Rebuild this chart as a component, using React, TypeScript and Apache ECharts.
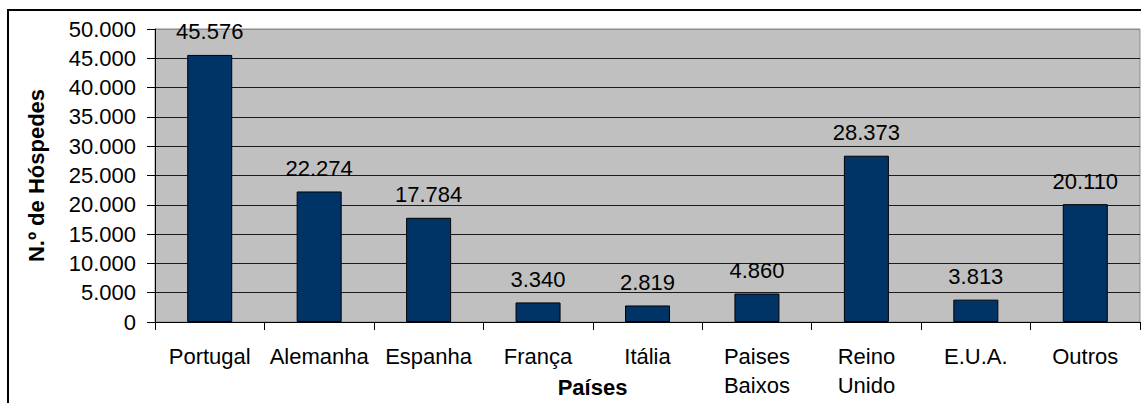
import React, { useEffect, useRef } from "react";
import * as echarts from "echarts";

const categories = ["Portugal", "Alemanha", "Espanha", "França", "Itália", "Paises\nBaixos", "Reino\nUnido", "E.U.A.", "Outros"];
const hospedes = [45576, 22274, 17784, 3340, 2819, 4860, 28373, 3813, 20110];
const yMin = 0;
const yMax = 50000;
const yStep = 5000;

const fmt = (v: number) => String(Math.round(v)).replace(/\B(?=(\d{3})+(?!\d))/g, ".");
const FONT = "'Liberation Sans', Arial, sans-serif";

export default function App() {
  const ref = useRef<HTMLDivElement>(null);
  useEffect(() => {
    if (!ref.current) return;
    const chart = echarts.init(ref.current, null, { renderer: "svg" });
    const nLines = (yMax - yMin) / yStep + 1;
    const gridColors: string[] = [];
    for (let i = 0; i < nLines; i++) gridColors.push(i === nLines - 1 ? "#8c8c8c" : "#1a1a1a");
    chart.setOption({
      animation: false,
      backgroundColor: "#ffffff",
      textStyle: { fontFamily: FONT },
      graphic: [
        {
          type: "rect",
          shape: { x: 8, y: 10, width: 1300, height: 600 },
          style: { fill: "none", stroke: "#000", lineWidth: 2 },
          silent: true,
          z: 100,
        },
      ],
      grid: {
        left: 155,
        top: 29,
        right: 1,
        bottom: 81,
        show: true,
        containLabel: false,
        outerBoundsMode: "none",
        backgroundColor: "#c0c0c0",
        borderColor: "#8c8c8c",
        borderWidth: 1,
      },
      xAxis: {
        type: "category",
        data: categories,
        name: "Países",
        nameLocation: "middle",
        nameGap: 54,
        nameMoveOverlap: false,
        nameTextStyle: { fontWeight: "bold", fontSize: 22, color: "#000", fontFamily: FONT, padding: [0, 110, 0, 0] },
        axisLine: { show: true, lineStyle: { color: "#000", width: 1 } },
        axisTick: { show: true, alignWithLabel: false, length: 8, lineStyle: { color: "#000" } },
        axisLabel: { interval: 0, fontSize: 22, color: "#000", fontFamily: FONT, margin: 20, lineHeight: 29 },
        splitLine: { show: false },
      },
      yAxis: {
        type: "value",
        min: yMin,
        max: yMax,
        interval: yStep,
        name: "N.º de Hóspedes",
        nameLocation: "middle",
        nameRotate: 90,
        nameGap: 108,
        nameMoveOverlap: false,
        nameTextStyle: { fontWeight: "bold", fontSize: 22, color: "#000", fontFamily: FONT },
        axisLine: { show: true, lineStyle: { color: "#000", width: 1 } },
        axisTick: { show: true, length: 8, lineStyle: { color: "#000" } },
        axisLabel: { fontSize: 22, color: "#000", fontFamily: FONT, margin: 19, formatter: (v: number) => fmt(v) },
        splitLine: { show: true, lineStyle: { color: gridColors, width: 1 } },
      },
      series: [
        {
          type: "bar",
          data: hospedes,
          barWidth: 45,
          itemStyle: { color: "#003366", borderColor: "#000", borderWidth: 1 },
          label: {
            show: true,
            position: "top",
            distance: 12,
            fontSize: 22,
            color: "#000",
            fontFamily: FONT,
            formatter: (p: any) => fmt(p.value),
          },
        },
      ],
    });
    return () => chart.dispose();
  }, []);
  return <div ref={ref} style={{ position: "absolute", left: 0, top: 0, width: 1141, height: 403 }} />;
}
